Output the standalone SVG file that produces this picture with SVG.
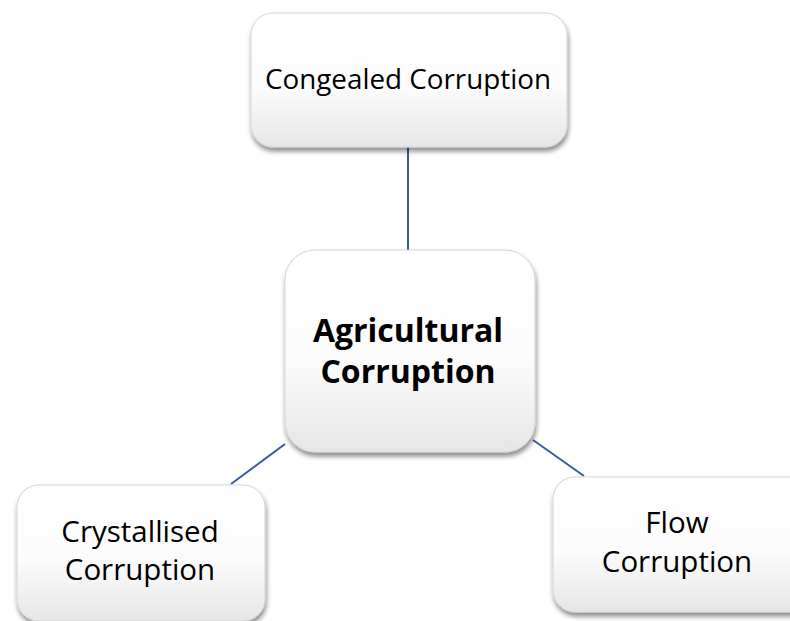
<svg xmlns="http://www.w3.org/2000/svg" width="790" height="621" viewBox="0 0 790 621">
<defs>
<linearGradient id="g" x1="0" y1="0" x2="0" y2="1">
<stop offset="0" stop-color="#ffffff"/>
<stop offset="0.55" stop-color="#fcfcfc"/>
<stop offset="1" stop-color="#e6e6e6"/>
</linearGradient>
<filter id="sh" x="-10%" y="-10%" width="125%" height="130%">
<feGaussianBlur in="SourceAlpha" stdDeviation="2.5"/>
<feOffset dx="1" dy="4" result="b"/>
<feComponentTransfer><feFuncA type="linear" slope="0.45"/></feComponentTransfer>
<feMerge><feMergeNode/><feMergeNode in="SourceGraphic"/></feMerge>
</filter>
<style>
.box{fill:url(#g);stroke:#d4d4d4;stroke-width:1;filter:url(#sh)}
.t{font-family:"Open Sans","Liberation Sans",sans-serif;font-size:29.5px;fill:#000;text-anchor:middle}
.top{font-size:27.8px}
.b{font-weight:bold;font-size:32px}
.c{stroke:#3a5ba0;stroke-width:2;fill:none}
</style>
</defs>
<rect width="790" height="621" fill="#fff"/>
<g id="connectors">
<line class="c" x1="408" y1="147" x2="408" y2="250"/>
<line class="c" x1="231" y1="484" x2="285" y2="444"/>
<line class="c" x1="533" y1="440" x2="584" y2="476"/>
</g>
<g id="congealed">
<rect class="box" x="251" y="13" width="316" height="134" rx="22"/>
<text class="t top" x="408" y="89">Congealed Corruption</text>
</g>
<g id="agricultural">
<rect class="box" x="285" y="250" width="250" height="202" rx="30"/>
<text class="t b" x="408" y="342">Agricultural</text>
<text class="t b" x="408" y="383">Corruption</text>
</g>
<g id="crystallised">
<rect class="box" x="17" y="485" width="248" height="136" rx="22"/>
<text class="t" x="140" y="542">Crystallised</text>
<text class="t" x="140" y="580">Corruption</text>
</g>
<g id="flow">
<rect class="box" x="553" y="477" width="260" height="135" rx="22"/>
<text class="t" x="677" y="533">Flow</text>
<text class="t" x="677" y="572">Corruption</text>
</g>
</svg>
